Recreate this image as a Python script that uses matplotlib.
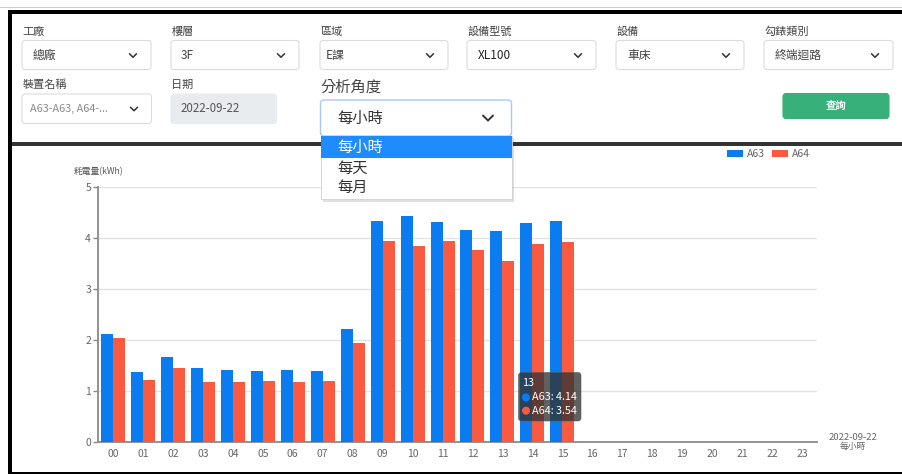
import numpy as np
import matplotlib
matplotlib.use("Agg")
import matplotlib.pyplot as plt
from matplotlib.patches import FancyBboxPatch, Rectangle, Circle

plt.rcParams['font.family'] = ['Noto Sans CJK TC', 'DejaVu Sans']

# ---------------- data ----------------
hours = ["00", "01", "02", "03", "04", "05", "06", "07", "08", "09", "10", "11",
         "12", "13", "14", "15", "16", "17", "18", "19", "20", "21", "22", "23"]
a63 = [2.12, 1.37, 1.67, 1.44, 1.41, 1.39, 1.41, 1.39, 2.22, 4.33, 4.44, 4.31,
       4.16, 4.14, 4.30, 4.34]
a64 = [2.03, 1.21, 1.44, 1.17, 1.18, 1.20, 1.18, 1.19, 1.93, 3.94, 3.84, 3.94,
       3.77, 3.54, 3.88, 3.92]
series_names = ["A63", "A64"]
y_ticks = [0, 1, 2, 3, 4, 5]
tooltip_idx = 13

form_labels_row1 = ["工廠", "樓層", "區域", "設備型號", "設備", "勾錶類別"]
form_values_row1 = ["總廠", "3F", "E課", "XL100", "車床", "終端迴路"]
period_options = ["每小時", "每天", "每月"]
date_str = "2022-09-22"

C_BLUE = "#0a7cf0"
C_RED = "#fa5a40"

W, H = 902, 474
fig = plt.figure(figsize=(W / 100, H / 100), dpi=100)
fig.patch.set_facecolor("white")

def fx(px):
    return px / W

def fy(py):
    return 1 - py / H

# ---------------- chart ----------------
left, right, top, bottom = 98, 817, 187, 441.7
ax = fig.add_axes([fx(left), fy(bottom), fx(right - left), (bottom - top) / H], zorder=1)
x = np.arange(len(hours))
n = len(a63)
ax.bar(x[:n] - 0.2, a63, width=0.4, color=C_BLUE, label=series_names[0], zorder=3)
ax.bar(x[:n] + 0.2, a64, width=0.4, color=C_RED, label=series_names[1], zorder=3)
ax.set_xlim(-0.5, len(hours) - 0.5)
ax.set_ylim(0, 5)
ax.set_xticks(x)
ax.set_xticklabels(hours)
ax.set_yticks(y_ticks)
ax.yaxis.grid(True, color="#e3e3e3", linewidth=1)
ax.set_axisbelow(True)
for s in ["top", "right"]:
    ax.spines[s].set_visible(False)
for s in ["left", "bottom"]:
    ax.spines[s].set_color("#8a8a8a")
    ax.spines[s].set_linewidth(1.3)
ax.tick_params(axis="x", length=0, pad=5, labelsize=7.5, labelcolor="#666666")
ax.tick_params(axis="y", length=3.5, width=1, color="#8a8a8a", pad=1.5,
               labelsize=7.5, labelcolor="#666666")

leg = ax.legend(loc="upper right", bbox_to_anchor=(fx(810), fy(149)),
                bbox_transform=fig.transFigure, ncol=2, frameon=False,
                fontsize=7.5, handlelength=1.55, handleheight=0.7,
                handletextpad=0.4, columnspacing=0.6, borderpad=0, borderaxespad=0)
for t in leg.get_texts():
    t.set_color("#666666")

fig.text(fx(98), fy(172), "耗電量(kWh)", fontsize=6.3, color="#555555",
         ha="center", va="center")
fig.text(fx(853), fy(437), date_str, fontsize=6.8, color="#666666",
         ha="center", va="center")
fig.text(fx(853), fy(446), "每小時", fontsize=6.3, color="#666666",
         ha="center", va="center")

# ---------------- UI overlay ----------------
ui = fig.add_axes([0, 0, 1, 1], zorder=3)
ui.set_xlim(0, W)
ui.set_ylim(H, 0)
ui.axis("off")
ui.patch.set_alpha(0)

# frame lines
ui.add_patch(Rectangle((0, 6.5), W, 1, color="#cccccc", lw=0))
ui.add_patch(Rectangle((8, 10), W - 8, 3.5, color="#000000", lw=0))
ui.add_patch(Rectangle((8, 10), 4, H - 10, color="#000000", lw=0))
ui.add_patch(Rectangle((8, 471.5), W - 8, 3, color="#000000", lw=0))
ui.add_patch(Rectangle((12, 142), W - 12, 3.5, color="#333333", lw=0))


def box(x0, y0, x1, y1, fc="white", ec="#dcdcdc", lw=0.8, z=4):
    p = FancyBboxPatch((x0, y0), x1 - x0, y1 - y0,
                       boxstyle="round,pad=0,rounding_size=3",
                       fc=fc, ec=ec, lw=lw, zorder=z)
    ui.add_patch(p)
    return p


def chevron(cx, cy, s=4, color="#333333", lw=1.1, z=6):
    ui.plot([cx - s, cx, cx + s], [cy - s / 2, cy + s / 2, cy - s / 2],
            color=color, lw=lw, zorder=z, solid_capstyle="round")


row1_x = [22, 171, 320, 467, 616, 764]
row1_w = [129, 128, 128, 129, 128, 129]
text_dx = [11, 10, 6, 11, 11, 11]
for i, (lab, val) in enumerate(zip(form_labels_row1, form_values_row1)):
    x0 = row1_x[i]
    ui.text(x0 + 0.5, 31.5, lab, fontsize=8, color="#444444", va="center", ha="left", zorder=6)
    box(x0, 40.5, x0 + row1_w[i], 69.5)
    ui.text(x0 + text_dx[i], 55, val, fontsize=8.5, color="#444444" if i != 3 else "#222222",
            va="center", ha="left", zorder=6)
    chevron(x0 + row1_w[i] - 18, 55.5, s=3.5)

# row 2
ui.text(22.5, 85, "裝置名稱", fontsize=8, color="#444444", va="center", ha="left")
box(22, 94, 151.5, 123.5)
ui.text(30, 108.5, "A63-A63, A64-...", fontsize=7.8, color="#8a8a8a", va="center", ha="left",
        zorder=6)
chevron(134, 109, s=3.5)

ui.text(171, 85, "日期", fontsize=8, color="#444444", va="center", ha="left")
box(171, 94, 276.5, 123.5, fc="#e9ecef", ec="#e9ecef")
ui.text(181, 108.5, date_str, fontsize=8.3, color="#555555", va="center", ha="left", zorder=6)

ui.text(320, 87, "分析角度", fontsize=11, color="#444444", va="center", ha="left")
box(320.5, 100, 511.5, 136, ec="#a9c9f5", lw=1.0)
ui.text(337, 118, period_options[0], fontsize=11, color="#333333", va="center",
        ha="left", zorder=6)
chevron(488, 118, s=5, lw=1.4)

# dropdown list
ui.add_patch(Rectangle((322.5, 138), 191, 64, fc="#000000", alpha=0.12, lw=0, zorder=7))
ui.add_patch(Rectangle((320.5, 136), 191, 63, fc="white", ec="#cfcfcf", lw=0.6, zorder=8))
ui.add_patch(Rectangle((320.5, 136), 191, 21.7, fc="#1e8cff", lw=0, zorder=9))
item_y = [147.3, 168.3, 187.3]
for j, opt in enumerate(period_options):
    ui.text(337, item_y[j], opt, fontsize=11, color="white" if j == 0 else "#333333",
            va="center", ha="left", zorder=10)

# button
box(783, 93.5, 889, 118.5, fc="#37b07a", ec="#37b07a")
ui.text(836, 106, "查詢", fontsize=7.5, color="white", fontweight="bold",
        va="center", ha="center", zorder=6)

# tooltip
tip = box(518.5, 372.5, 581, 421, fc="#333333", ec="#555555", lw=0.5, z=11)
tip.set_alpha(0.78)
ui.text(522.5, 382.5, hours[tooltip_idx], fontsize=7.8, color="white", va="center",
        ha="left", zorder=12)
ui.add_patch(Circle((526, 397.5), 3.3, color=C_BLUE, zorder=12))
ui.add_patch(Circle((526, 410.7), 3.3, color=C_RED, zorder=12))
ui.text(532, 397.5, f"{series_names[0]}: {a63[tooltip_idx]:.2f}", fontsize=7.8,
        color="white", va="center", ha="left", zorder=12)
ui.text(532, 410.7, f"{series_names[1]}: {a64[tooltip_idx]:.2f}", fontsize=7.8,
        color="white", va="center", ha="left", zorder=12)

fig.savefig("out.png", dpi=100)
